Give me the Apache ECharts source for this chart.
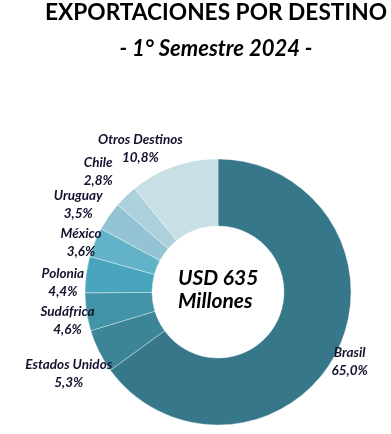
<!DOCTYPE html>
<html>
<head>
<meta charset="utf-8">
<script src="https://cdn.jsdelivr.net/npm/echarts@6/dist/echarts.min.js"></script>
<style>
html,body{margin:0;padding:0;background:#fff;}
#chart{width:391px;height:434px;}
</style>
</head>
<body>
<div id="chart"></div>
<script>
const titleText = 'EXPORTACIONES POR DESTINO';
const subtitleText = '- 1° Semestre 2024 -';
const centerText = ['USD 635', 'Millones'];
const categories = ['Brasil', 'Estados Unidos', 'Sudáfrica', 'Polonia', 'México', 'Uruguay', 'Chile', 'Otros Destinos'];
const shares = [65.0, 5.3, 4.6, 4.4, 3.6, 3.5, 2.8, 10.8];
const colors = ['#36788a', '#3c8598', '#4292a8', '#48a5bd', '#63b3c8', '#94c3d3', '#add1dc', '#c8dfe6'];
// small label nudges (px) applied after automatic outside placement
const labelNudgeX = [-5, 6, 8, -2, 7, -6, -13, -27];
const labelNudgeY = [0, 4, 5, 11, 9, 5, -9, 0];

const CX = 218, CY = 292, R_IN = 66, R_OUT = 133;
const FONT = 'Lato';
const total = shares.reduce((a, b) => a + b, 0);
const cum = [];
shares.reduce((acc, v, i) => { cum[i] = acc + v / 2; return acc + v; }, 0);

const chart = echarts.init(document.getElementById('chart'), null, {renderer: 'canvas'});
chart.setOption({
  animation: false,
  backgroundColor: '#ffffff',
  title: [
    {text: titleText, left: 211, textAlign: 'center', top: -4,
     textStyle: {fontFamily: FONT, fontWeight: 'bold', fontSize: 22.7, color: '#000'}},
    {text: subtitleText, left: 211, textAlign: 'center', top: 33,
     textStyle: {fontFamily: FONT, fontStyle: 'italic', fontWeight: 'bold', fontSize: 22, color: '#000'}}
  ],
  graphic: [{
    type: 'text', left: CX - 40, top: CY - 25,
    style: {text: centerText.join('\n'), fontFamily: FONT, fontStyle: 'italic', fontWeight: 'bold',
            fontSize: 21, lineHeight: 23, fill: '#000', align: 'center', width: 80}
  }],
  series: [{
    type: 'pie',
    center: [CX, CY],
    radius: [R_IN, R_OUT],
    startAngle: 90,
    clockwise: true,
    avoidLabelOverlap: false,
    itemStyle: {borderColor: 'rgba(255,255,255,0.45)', borderWidth: 0.8},
    label: {
      show: true, position: 'outside',
      fontFamily: FONT, fontStyle: 'italic', fontWeight: 'bold', fontSize: 13.5, lineHeight: 18,
      color: '#12122e', align: 'center',
      formatter: p => p.name + '\n' + p.value.toFixed(1).replace('.', ',') + '%'
    },
    labelLine: {show: false},
    labelLayout: function (params) {
      const i = params.dataIndex;
      const a = cum[i] / total * 2 * Math.PI;
      const ux = Math.sin(a), uy = -Math.cos(a);
      const w = params.labelRect.width, h = params.labelRect.height;
      const d = Math.min(w / 2 / Math.max(Math.abs(ux), 1e-6), h / 2 / Math.max(Math.abs(uy), 1e-6));
      const r = R_OUT + d;
      return {x: CX + r * ux + labelNudgeX[i], y: CY + r * uy + labelNudgeY[i], align: 'center', verticalAlign: 'middle'};
    },
    data: categories.map((c, i) => ({name: c, value: shares[i], itemStyle: {color: colors[i]}}))
  }]
});
</script>
</body>
</html>
